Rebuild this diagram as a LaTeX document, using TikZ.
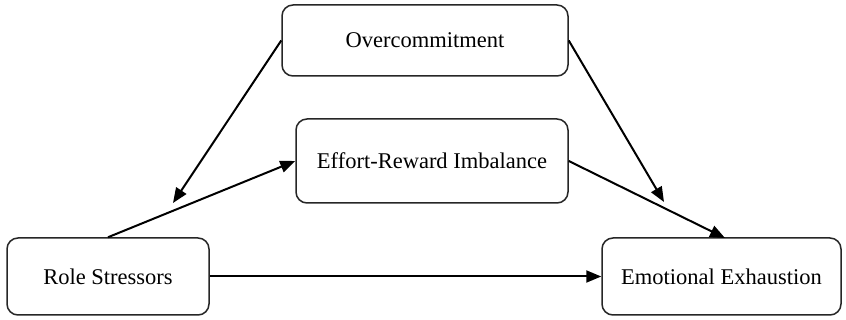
\documentclass[tikz,border=0pt]{standalone}
\usepackage{fontspec}
\setmainfont{Liberation Serif}
\usetikzlibrary{arrows.meta}
\begin{document}
\begin{tikzpicture}[x=1pt,y=-1pt,
  box/.style={draw=black!85, line width=1.5pt, rounded corners=11pt, fill=white, inner sep=0pt,
    font=\fontsize{22.5}{27}\selectfont},
  conn/.style={line width=2pt, -{Triangle[length=15pt,width=12pt]}}]
\useasboundingbox (0,0) rectangle (846,320);
\node[box, minimum width=286pt, minimum height=71pt] (oc) at (425,40.5) {Overcommitment};
\node[box, minimum width=272pt, minimum height=84pt] (eri) at (432,161) {Effort-Reward Imbalance};
\node[box, minimum width=202pt, minimum height=77pt] (rs) at (108,276.5) {Role Stressors};
\node[box, minimum width=239pt, minimum height=77pt] (ee) at (721.5,276.5) {Emotional Exhaustion};
\coordinate (m1) at (173,203);
\coordinate (m2) at (664,202);
\coordinate (eetop) at (725,238);
\draw[conn] (rs.north) -- (eri.west);
\draw[conn] (eri.east) -- (eetop);
\draw[conn] (rs.east) -- (ee.west);
\draw[conn] (oc.west) -- (m1);
\draw[conn] (oc.east) -- (m2);
\end{tikzpicture}
\end{document}
